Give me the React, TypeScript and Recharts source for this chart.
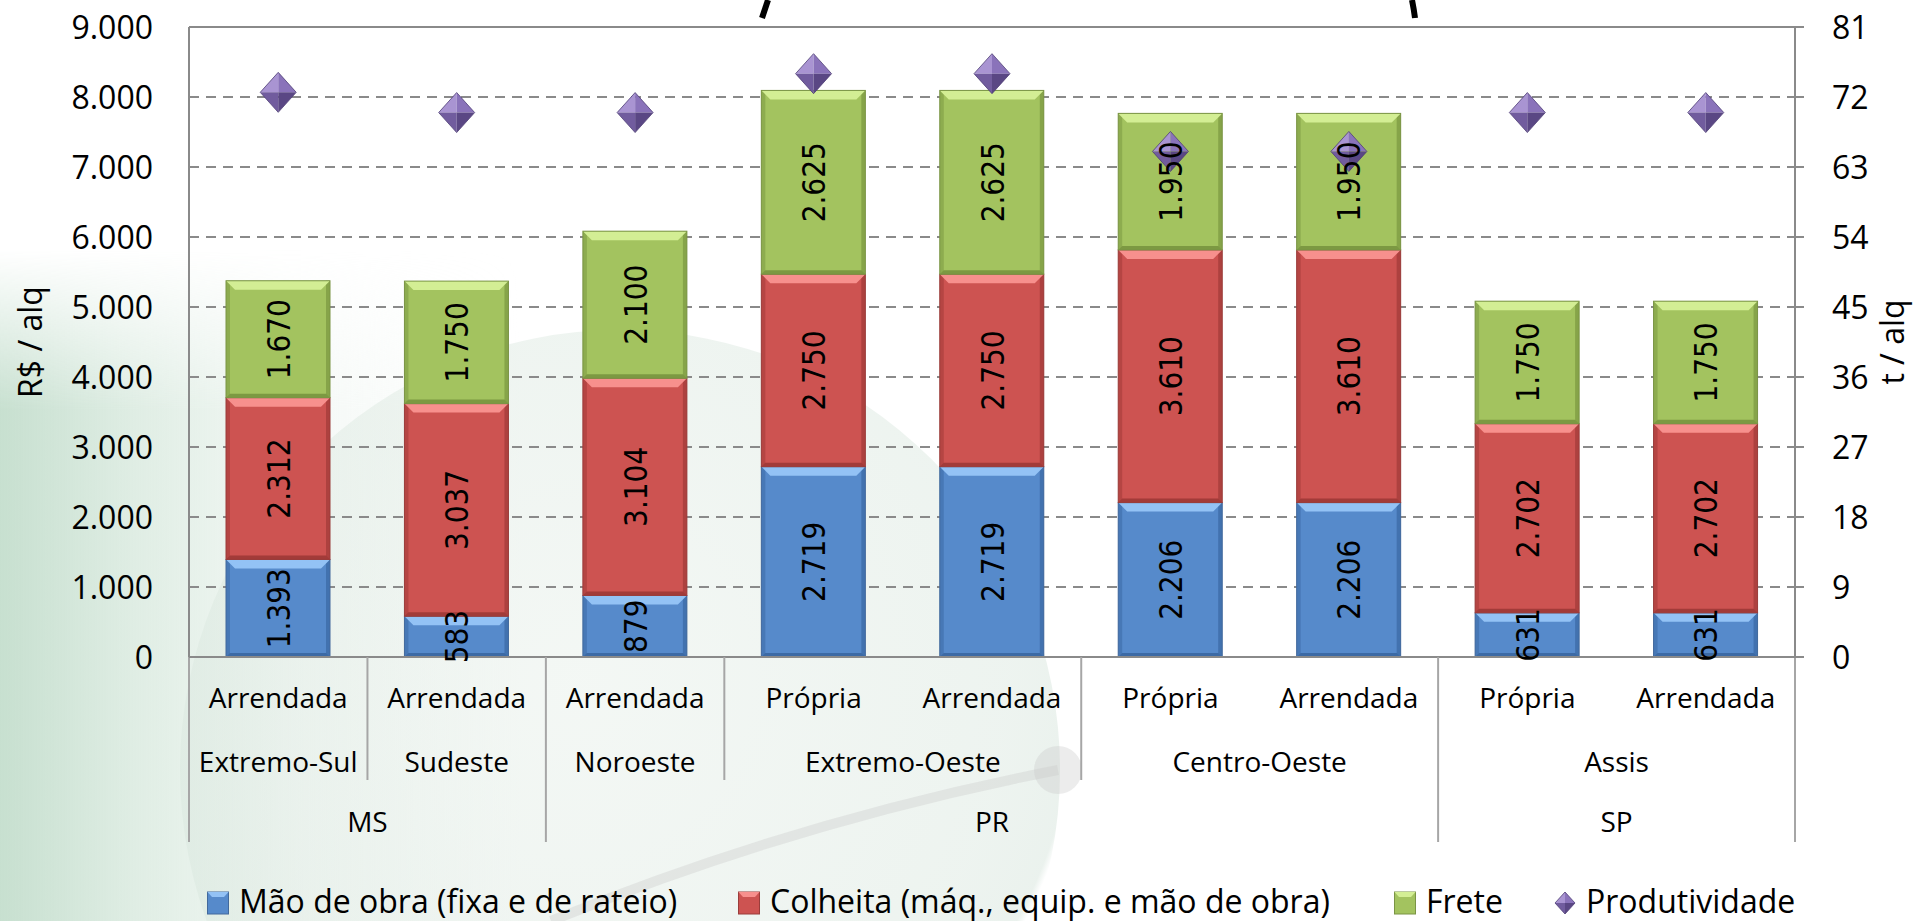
import React from 'react';
import {
  ComposedChart,
  Bar,
  Line,
  XAxis,
  YAxis,
  CartesianGrid,
  Legend,
  LabelList,
  ReferenceLine,
} from 'recharts';

// ---------------- data ----------------
const categories = ['Arrendada', 'Arrendada', 'Arrendada', 'Própria', 'Arrendada', 'Própria', 'Arrendada', 'Própria', 'Arrendada'];
const regions = ['Extremo-Sul', 'Sudeste', 'Noroeste', 'Extremo-Oeste', 'Extremo-Oeste', 'Centro-Oeste', 'Centro-Oeste', 'Assis', 'Assis'];
const states = ['MS', 'MS', 'PR', 'PR', 'PR', 'PR', 'PR', 'SP', 'SP'];

const maoDeObra = [1393, 583, 879, 2719, 2719, 2206, 2206, 631, 631];
const colheita = [2312, 3037, 3104, 2750, 2750, 3610, 3610, 2702, 2702];
const frete = [1670, 1750, 2100, 2625, 2625, 1950, 1950, 1750, 1750];
const produtividade = [72.6, 70, 70, 75, 75, 65, 65, 70, 70];

const leftTicks = [0, 1000, 2000, 3000, 4000, 5000, 6000, 7000, 8000, 9000];
const rightTicks = [0, 9, 18, 27, 36, 45, 54, 63, 72, 81];

const seriesNames = [
  'Mão de obra (fixa e de rateio)',
  'Colheita (máq., equip. e mão de obra)',
  'Frete',
  'Produtividade',
];
const leftTitle = 'R$ / alq';
const rightTitle = 't / alq';

const data = categories.map((c, i) => ({
  key: i,
  mao: maoDeObra[i],
  colheita: colheita[i],
  frete: frete[i],
  prod: produtividade[i],
}));

// ---------------- layout / style ----------------
const W = 1915;
const H = 921;
const LEFT_W = 189;
const RIGHT_W = 120;
const TOP = 27;
const LEGEND_H = 40;
const XAXIS_H = 224;
const PLOT_W = W - LEFT_W - RIGHT_W;
const PLOT_H = H - TOP - XAXIS_H - LEGEND_H;
const STEP = PLOT_W / categories.length;
const GRID = '#8a8a8a';
const FONT = '"Open Sans", "Noto Sans", sans-serif';

const PAL: Record<string, any> = {
  mao: { base: '#568ACB', light: '#93C2F5', dark: '#3C6AA5', edge: '#42699C' },
  colheita: { base: '#CD5351', light: '#F7908D', dark: '#A23B39', edge: '#9A3D3B' },
  frete: { base: '#A3C35F', light: '#D3EE94', dark: '#7C9942', edge: '#7A9445' },
};

const fmt = (v: number) => String(v).replace(/\B(?=(\d{3})+(?!\d))/g, '.');

function BevelBar(props: any) {
  const { x, y, width: w, height: h, pal } = props;
  if (!h || h <= 0) return null;
  const t = Math.min(9, h / 2);
  const s = 4;
  const bt = Math.min(4, h / 4);
  return (
    <g>
      <rect x={x} y={y} width={w} height={h} fill={pal.base} />
      <rect x={x} y={y} width={s} height={h} fill={pal.dark} opacity={0.55} />
      <rect x={x + w - s} y={y} width={s} height={h} fill={pal.dark} opacity={0.75} />
      <polygon
        points={`${x},${y + h} ${x + w},${y + h} ${x + w - s},${y + h - bt} ${x + s},${y + h - bt}`}
        fill={pal.dark}
      />
      <polygon
        points={`${x},${y} ${x + w},${y} ${x + w - t},${y + t} ${x + t},${y + t}`}
        fill={pal.light}
      />
      <rect x={x} y={y} width={w} height={h} fill="none" stroke={pal.edge} strokeWidth={1} />
    </g>
  );
}

function Diamond(props: any) {
  const { cx, cy, small } = props;
  if (cx == null || cy == null) return null;
  const hw = small ? 10 : 18;
  const hh = small ? 11 : 20;
  return (
    <g>
      <polygon points={`${cx},${cy - hh} ${cx - hw},${cy} ${cx},${cy}`} fill="#A994D2" />
      <polygon points={`${cx},${cy - hh} ${cx + hw},${cy} ${cx},${cy}`} fill="#8A73BA" />
      <polygon points={`${cx - hw},${cy} ${cx},${cy + hh} ${cx},${cy}`} fill="#715C9E" />
      <polygon points={`${cx + hw},${cy} ${cx},${cy + hh} ${cx},${cy}`} fill="#5A4784" />
      <polygon
        points={`${cx},${cy - hh} ${cx - hw},${cy} ${cx},${cy + hh} ${cx + hw},${cy}`}
        fill="none"
        stroke="#4F3F76"
        strokeWidth={0.8}
      />
    </g>
  );
}

function DataLabel(props: any) {
  const { x, y, width, height, value } = props;
  if (value == null) return null;
  const cx = x + width / 2;
  const cy = y + height / 2;
  const fs = 28;
  return (
    <text
      transform={`translate(${cx},${cy}) rotate(-90) scale(1,1.17)`}
      x={0}
      y={fs * 0.36}
      textAnchor="middle"
      fontFamily='"DejaVu Sans", Verdana, sans-serif'
      fontSize={fs}
      fill="#000"
    >
      {fmt(value)}
    </text>
  );
}

function runOf(arr: string[], i: number) {
  let s = i;
  while (s > 0 && arr[s - 1] === arr[i]) s--;
  let e = i;
  while (e < arr.length - 1 && arr[e + 1] === arr[i]) e++;
  return [s, e];
}

function XTick(props: any) {
  const { x, y, payload } = props;
  const i = Number(payload.value);
  const n = categories.length;
  const bx = x - STEP / 2;
  const els: any[] = [];
  const longLen = 185;
  const midLen = 123;
  const sepColor = '#a6a6a6';
  if (i === 0 || states[i] !== states[i - 1]) {
    els.push(<line key="l" x1={bx} x2={bx} y1={y} y2={y + longLen} stroke={sepColor} strokeWidth={2} />);
  } else if (regions[i] !== regions[i - 1]) {
    els.push(<line key="l" x1={bx} x2={bx} y1={y} y2={y + midLen} stroke={sepColor} strokeWidth={2} />);
  }
  if (i === n - 1) {
    els.push(
      <line key="r" x1={x + STEP / 2} x2={x + STEP / 2} y1={y} y2={y + longLen} stroke={sepColor} strokeWidth={2} />
    );
  }
  els.push(
    <text key="c" x={x} y={y + 51} textAnchor="middle" fontFamily={FONT} fontSize={28} fill="#000">
      {categories[i]}
    </text>
  );
  const [rs, re] = runOf(regions, i);
  if (rs === i) {
    els.push(
      <text key="rg" x={x + ((re - rs) * STEP) / 2} y={y + 115} textAnchor="middle" fontFamily={FONT} fontSize={28} fill="#000">
        {regions[i]}
      </text>
    );
  }
  const [ss, se] = runOf(states, i);
  if (ss === i) {
    els.push(
      <text key="st" x={x + ((se - ss) * STEP) / 2} y={y + 175} textAnchor="middle" fontFamily={FONT} fontSize={28} fill="#000">
        {states[i]}
      </text>
    );
  }
  return <g>{els}</g>;
}

function LeftTick(props: any) {
  const { x, y, payload } = props;
  return (
    <g>
      <line x1={x + 36} x2={x + 44} y1={y} y2={y} stroke={GRID} strokeWidth={2} />
      <text x={x} y={y + 11.5} textAnchor="end" fontFamily={FONT} fontSize={32} fill="#000">
        {fmt(payload.value)}
      </text>
    </g>
  );
}

function RightTick(props: any) {
  const { x, y, payload } = props;
  return (
    <g>
      <line x1={x - 44} x2={x - 28} y1={y} y2={y} stroke={GRID} strokeWidth={2} />
      <text x={x} y={y + 11.5} textAnchor="start" fontFamily={FONT} fontSize={32} fill="#000">
        {payload.value}
      </text>
    </g>
  );
}

function AxisTitle(props: any) {
  const { viewBox, text, offsetX, fallbackX } = props;
  const vx = viewBox && viewBox.x != null ? viewBox.x + offsetX : fallbackX;
  const cy = viewBox && viewBox.y != null ? viewBox.y + viewBox.height / 2 : TOP + PLOT_H / 2;
  return (
    <text
      transform={`translate(${vx},${cy}) rotate(-90)`}
      x={0}
      y={11}
      textAnchor="middle"
      fontFamily={FONT}
      fontSize={32}
      fill="#000"
    >
      {text}
    </text>
  );
}

const legendLefts = [207, 738, 1394, 1554];
const legendIconPal = [PAL.mao, PAL.colheita, PAL.frete];

function LegendContent() {
  return (
    <div style={{ position: 'relative', width: W, height: LEGEND_H }}>
      {seriesNames.map((name, i) => (
        <div
          key={name}
          style={{
            position: 'absolute',
            left: legendLefts[i],
            top: 0,
            height: LEGEND_H,
            display: 'flex',
            alignItems: 'center',
            whiteSpace: 'nowrap',
            fontFamily: FONT,
            fontSize: 32,
            lineHeight: `${LEGEND_H}px`,
            color: '#000',
          }}
        >
          <svg width={22} height={24} style={{ marginRight: 10, marginTop: 4 }}>
            {i < 3 ? (
              <g>
                <rect x={0.5} y={1} width={21} height={22} fill={legendIconPal[i].base} stroke={legendIconPal[i].edge} />
                <polygon points="0.5,1 21.5,1 17,6 5,6" fill={legendIconPal[i].light} />
              </g>
            ) : (
              <Diamond cx={11} cy={12} small />
            )}
          </svg>
          <span>{name}</span>
        </div>
      ))}
    </div>
  );
}

export default function App() {
  return (
    <div
      style={{
        position: 'absolute',
        left: 0,
        top: 0,
        width: W,
        height: H,
        overflow: 'hidden',
        background: '#ffffff',
      }}
    >
      {/* faint slide watermark */}
      <div
        style={{
          position: 'absolute',
          left: 0,
          top: 250,
          width: 520,
          height: 671,
          background:
            'linear-gradient(to right, rgba(196,222,205,0.95) 0px, rgba(214,232,220,0.75) 140px, rgba(235,243,238,0.5) 300px, rgba(255,255,255,0) 520px)',
          WebkitMaskImage: 'linear-gradient(to bottom, transparent 0px, black 160px)',
          maskImage: 'linear-gradient(to bottom, transparent 0px, black 160px)',
        }}
      />
      <div
        style={{
          position: 'absolute',
          left: 180,
          top: 330,
          width: 880,
          height: 880,
          borderRadius: '50%',
          background:
            'radial-gradient(circle at 45% 40%, rgba(232,240,234,0.5) 0%, rgba(216,230,221,0.45) 60%, rgba(204,222,211,0.4) 70%, rgba(255,255,255,0) 71%)',
        }}
      />
      <svg width={W} height={H} style={{ position: 'absolute', left: 0, top: 0 }}>
        <path d="M551,921 Q800,820 1058,770" stroke="rgba(200,200,200,0.35)" strokeWidth={10} fill="none" />
        <circle cx={1058} cy={770} r={24} fill="rgba(200,200,200,0.35)" />
        <path d="M768,0 L762,18" stroke="#000" strokeWidth={6} fill="none" />
        <path d="M1412,0 Q1414,10 1415,18" stroke="#000" strokeWidth={6} fill="none" />
      </svg>
      <div style={{ position: 'absolute', left: 0, top: 0 }}>
        <ComposedChart
          width={W}
          height={H}
          data={data}
          margin={{ top: TOP, right: 0, bottom: 0, left: 0 }}
          barSize={104}
        >
          <CartesianGrid
            yAxisId="left"
            vertical={false}
            stroke={GRID}
            strokeWidth={2}
            strokeDasharray="10 7"
          />
          <XAxis
            dataKey="key"
            type="category"
            height={XAXIS_H}
            interval={0}
            tickSize={0}
            tickMargin={0}
            tickLine={false}
            axisLine={{ stroke: GRID, strokeWidth: 2 }}
            tick={<XTick />}
          />
          <YAxis
            yAxisId="left"
            orientation="left"
            width={LEFT_W}
            domain={[0, 9000]}
            ticks={leftTicks}
            interval={0}
            tickSize={0}
            tickMargin={36}
            tickLine={false}
            axisLine={{ stroke: GRID, strokeWidth: 2 }}
            tick={<LeftTick />}
            label={<AxisTitle text={leftTitle} offsetX={31} fallbackX={31} />}
          />
          <YAxis
            yAxisId="right"
            orientation="right"
            width={RIGHT_W}
            domain={[0, 81]}
            ticks={rightTicks}
            interval={0}
            tickSize={0}
            tickMargin={37}
            tickLine={false}
            axisLine={{ stroke: GRID, strokeWidth: 2 }}
            tick={<RightTick />}
            label={<AxisTitle text={rightTitle} offsetX={98} fallbackX={W - RIGHT_W + 98} />}
          />
          <ReferenceLine yAxisId="left" y={9000} stroke={GRID} strokeWidth={2} />
          <Bar
            yAxisId="left"
            dataKey="mao"
            name={seriesNames[0]}
            stackId="s"
            fill={PAL.mao.base}
            isAnimationActive={false}
            shape={(p: any) => <BevelBar {...p} pal={PAL.mao} />}
          >
            <LabelList dataKey="mao" content={(p: any) => <DataLabel {...p} />} />
          </Bar>
          <Bar
            yAxisId="left"
            dataKey="colheita"
            name={seriesNames[1]}
            stackId="s"
            fill={PAL.colheita.base}
            isAnimationActive={false}
            shape={(p: any) => <BevelBar {...p} pal={PAL.colheita} />}
          >
            <LabelList dataKey="colheita" content={(p: any) => <DataLabel {...p} />} />
          </Bar>
          <Bar
            yAxisId="left"
            dataKey="frete"
            name={seriesNames[2]}
            stackId="s"
            fill={PAL.frete.base}
            isAnimationActive={false}
            shape={(p: any) => <BevelBar {...p} pal={PAL.frete} />}
          >
            <LabelList dataKey="frete" content={(p: any) => <DataLabel {...p} />} />
          </Bar>
          <Line
            yAxisId="right"
            dataKey="prod"
            name={seriesNames[3]}
            stroke="none"
            isAnimationActive={false}
            activeDot={false}
            dot={(p: any) => <Diamond key={`d${p.index}`} {...p} />}
          />
          <Legend
            verticalAlign="bottom"
            align="left"
            wrapperStyle={{ left: 0, bottom: 0, width: W, height: LEGEND_H }}
            content={() => <LegendContent />}
          />
        </ComposedChart>
      </div>
    </div>
  );
}
